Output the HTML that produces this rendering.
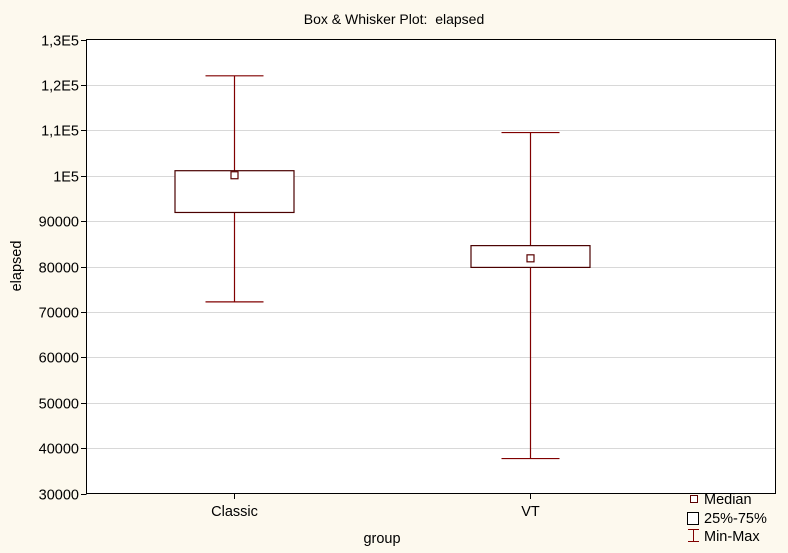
<!DOCTYPE html>
<html><head><meta charset="utf-8"><style>
body{margin:0;background:#fdf9ee;}
svg{display:block;font-family:"Liberation Sans",sans-serif;}
</style></head><body>
<svg id="c" width="788" height="553">
<rect x="0" y="0" width="788" height="553" fill="#fdf9ee"/>
<text x="394" y="24" text-anchor="middle" font-size="14" fill="#000">Box &amp; Whisker Plot:&#160; elapsed</text>
<rect x="86.5" y="39.5" width="689" height="454" fill="#fff" stroke="#000"/>
<g id="grid"></g><g id="yt"></g><g id="boxes"></g>
<text x="382" y="543" text-anchor="middle" font-size="14.5">group</text>
<text transform="translate(21,266) rotate(-90)" text-anchor="middle" font-size="14.5">elapsed</text>
<g>
<rect x="690.5" y="495.5" width="7" height="7" fill="#fff" stroke="#5a0000"/>
<text x="704" y="504" font-size="14.5">Median</text>
<rect x="687.5" y="512.5" width="11" height="12" fill="#fff" stroke="#000"/>
<text x="704" y="523" font-size="14.5">25%-75%</text>
<path d="M688 529.5H699M693.5 529.5V541.5M688 541.5H699" stroke="#800000" fill="none"/>
<text x="704" y="541" font-size="14.5">Min-Max</text>
</g>
</svg>
<script>
const categories=["Classic","VT"];
const mins=[72200,37700];
const q1s=[91900,79800];
const medians=[100100,81800];
const q3s=[101100,84600];
const maxs=[122000,109500];
const yTicks=[30000,40000,50000,60000,70000,80000,90000,100000,110000,120000,130000];
const yTickLabels=["30000","40000","50000","60000","70000","80000","90000","1E5","1,1E5","1,2E5","1,3E5"];
const NS="http://www.w3.org/2000/svg";
const y=v=>493.5-(v-30000)/100000*454;
const x=i=>234+296*i;
function mk(t,a,p){const e=document.createElementNS(NS,t);for(const k in a)e.setAttribute(k,a[k]);p.appendChild(e);return e;}
const g=document.getElementById('grid'),yt=document.getElementById('yt'),b=document.getElementById('boxes');
yTicks.forEach((v,i)=>{
 const yy=Math.round(y(v))+0.5;
 if(i>0&&i<yTicks.length-1){const l=mk('line',{x1:87,x2:775,y1:yy,y2:yy,stroke:'#d8d8d8'},g);
 
 }
 const t=mk('line',{x1:81,x2:86.5,y1:yy,y2:yy,stroke:'#000'},yt);
 
 
 const tx=mk('text',{x:79,y:yy+5,'text-anchor':'end','font-size':14.5},yt);
 tx.textContent=yTickLabels[i];
 
 
});
categories.forEach((c,i)=>{
 const cx=Math.round(x(i))+0.5;
 const gg=mk('g',{},b);
 
 
 const t=mk('line',{x1:cx,x2:cx,y1:493.5,y2:499,stroke:'#000'},gg);
 
 
 const w=mk('path',{d:`M${cx} ${y(maxs[i])}V${y(q3s[i])}M${cx} ${y(q1s[i])}V${y(mins[i])}M${cx-29} ${y(maxs[i])}H${cx+29}M${cx-29} ${y(mins[i])}H${cx+29}`,stroke:'#800000','stroke-width':1.2,fill:'none'},gg);
 
 
 const r=mk('rect',{x:cx-59.5,y:y(q3s[i]),width:119,height:y(q1s[i])-y(q3s[i]),fill:'#fff',stroke:'#4a0000','stroke-width':1.2},gg);
 
 
 const m=mk('rect',{x:cx-3.5,y:y(medians[i])-3.5,width:7,height:7,fill:'#fff',stroke:'#5a0000','stroke-width':1.2},gg);
 
 
 const l=mk('text',{x:cx,y:516,'text-anchor':'middle','font-size':14.5},gg);
 l.textContent=c;
 
 
});
</script>
</body></html>
